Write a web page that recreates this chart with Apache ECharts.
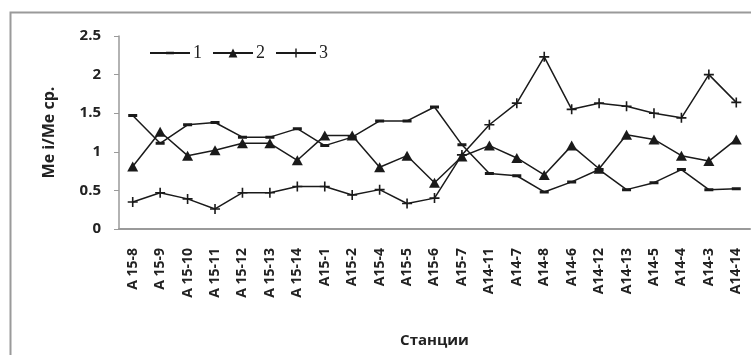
<!DOCTYPE html>
<html>
<head>
<meta charset="utf-8">
<script src="https://cdn.jsdelivr.net/npm/echarts@6/dist/echarts.min.js"></script>
<style>
html,body{margin:0;padding:0;background:#fff;}
#chart{width:751px;height:355px;}
</style>
</head>
<body>
<div id="chart"></div>
<script>
const categories = ["A 15-8","A 15-9","A 15-10","A 15-11","A 15-12","A 15-13","A 15-14","A15-1","A15-2","A15-4","A15-5","A15-6","A15-7","A14-11","A14-7","A14-8","A14-6","A14-12","A14-13","A14-5","A14-4","A14-3","A14-14"];
const series1 = [1.47,1.11,1.35,1.38,1.19,1.19,1.30,1.08,1.19,1.40,1.40,1.58,1.09,0.72,0.69,0.48,0.61,0.77,0.51,0.60,0.77,0.51,0.52];
const series2 = [0.81,1.26,0.95,1.02,1.11,1.11,0.89,1.21,1.21,0.80,0.95,0.60,0.94,1.08,0.92,0.70,1.08,0.78,1.22,1.16,0.95,0.88,1.16];
const series3 = [0.35,0.47,0.39,0.26,0.47,0.47,0.55,0.55,0.44,0.51,0.33,0.40,0.96,1.35,1.63,2.23,1.55,1.63,1.59,1.50,1.44,2.00,1.64];
const seriesNames = ["1","2","3"];
const yTicks = [0, 0.5, 1, 1.5, 2, 2.5];

const chart = echarts.init(document.getElementById('chart'), null, {renderer:'canvas'});
const lineColor = '#1a1a1a';
const labelFont = {fontFamily:'Open Sans', fontWeight:'bold', color:'#222'};
const plusPath = 'path://M4.2,0h1.6v10h-1.6zM0,4.2h10v1.6h-10z';
// short horizontal dash inside a square 10x10 box (tiny corner specks keep the box square)
const dashPath = 'path://M0.5,3.5h9v3h-9zM0,0h0.01v0.01h-0.01zM10,10h-0.01v-0.01h0.01z';

function mk(name, data, symbol, size) {
  return {
    name: name, type: 'line', data: data,
    symbol: symbol, symbolSize: size, showAllSymbol: true,
    lineStyle: {color: lineColor, width: 1.5},
    itemStyle: {color: lineColor, borderWidth: 0},
    emphasis: {disabled: true},
    animation: false
  };
}

chart.setOption({
  animation: false,
  graphic: [{
    type: 'rect', left: 8, top: 10, z: -1,
    shape: {x: 0, y: 0, width: 760, height: 360},
    style: {fill: 'none', stroke: '#9a9a9a', lineWidth: 2}
  }],
  legend: {
    left: 144, top: 39,
    itemWidth: 40, itemHeight: 11, itemGap: 10,
    textStyle: {fontFamily: 'Liberation Serif', fontSize: 18, color: '#222', padding: [0,0,0,-2]},
    data: seriesNames
  },
  grid: {left: 119, right: 1, top: 36, bottom: 126, containLabel: false},
  xAxis: {
    type: 'category', data: categories, boundaryGap: true,
    name: 'Станции', nameLocation: 'middle', nameGap: 104,
    nameTextStyle: Object.assign({fontSize: 15}, labelFont),
    axisLine: {lineStyle: {color: '#9a9a9a', width: 2}},
    axisTick: {show: false},
    axisLabel: Object.assign({rotate: 90, fontSize: 14, margin: 19, interval: 0}, labelFont)
  },
  yAxis: {
    type: 'value', min: 0, max: 2.5, interval: 0.5,
    name: 'Me i/Me cp.', nameLocation: 'middle', nameGap: 62,
    nameTextStyle: Object.assign({fontSize: 16}, labelFont),
    axisLine: {show: true, lineStyle: {color: '#9a9a9a', width: 1.5}},
    axisTick: {show: true, length: 5, lineStyle: {color: '#9a9a9a'}},
    splitLine: {show: false},
    axisLabel: Object.assign({fontSize: 15, margin: 18, formatter: v => yTicks.includes(v) ? String(v) : ''}, labelFont)
  },
  series: [
    mk(seriesNames[0], series1, dashPath, 10),
    mk(seriesNames[1], series2, 'triangle', [11, 10]),
    mk(seriesNames[2], series3, plusPath, 10)
  ]
});
</script>
</body>
</html>
